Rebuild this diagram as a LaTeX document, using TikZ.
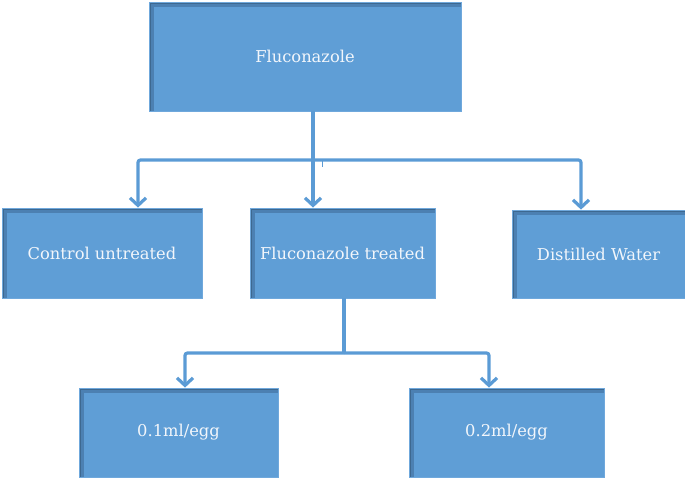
\documentclass[tikz,border=0pt]{standalone}
\usepackage{fontspec}
\setmainfont{DejaVu Serif}
\usetikzlibrary{arrows.meta}
\definecolor{boxfill}{HTML}{5F9ED6}
\definecolor{boxdark}{HTML}{3D6890}
\definecolor{boxmid}{HTML}{4C80B2}
\definecolor{boxedge}{HTML}{6FA8DC}
\definecolor{linecol}{HTML}{5B9BD5}
\definecolor{txtcol}{HTML}{F2F6FB}
\tikzset{
  boxnode/.style={rectangle, fill=boxfill, draw=boxedge, line width=0.8pt,
    text=txtcol, font=\fontsize{16.3}{19}\selectfont, inner sep=0pt,
    path picture={
      \fill[boxmid] (path picture bounding box.north west) rectangle ([yshift=-4.5pt]path picture bounding box.north east);
      \fill[boxmid] (path picture bounding box.north west) rectangle ([xshift=4.5pt]path picture bounding box.south west);
      \fill[boxdark] (path picture bounding box.north west) rectangle ([yshift=-2.2pt]path picture bounding box.north east);
      \fill[boxdark] (path picture bounding box.north west) rectangle ([xshift=2.2pt]path picture bounding box.south west);
    }},
  conn/.style={draw=linecol, line width=3.2pt, rounded corners=2.5pt},
  arr/.style={conn, -{Straight Barb[length=7.5pt,width=16pt,line width=3.2pt]}}
}
\begin{document}
\begin{tikzpicture}[x=1pt,y=-1pt]
\useasboundingbox (0,0) rectangle (685,477);
\node[boxnode, minimum width=312pt, minimum height=109pt] (top) at (305,56.5) {Fluconazole};
\node[boxnode, minimum width=200pt, minimum height=90pt] (ctrl) at (102,253) {Control untreated};
\node[boxnode, minimum width=185pt, minimum height=90pt] (flt) at (342.5,253) {Fluconazole treated};
\node[boxnode, minimum width=173pt, minimum height=88pt] (dist) at (598.5,254) {Distilled Water};
\node[boxnode, minimum width=199pt, minimum height=89pt] (b1) at (178.5,432.5) {0.1ml/egg};
\node[boxnode, minimum width=195pt, minimum height=89pt] (b2) at (506.5,432.5) {0.2ml/egg};
% first level connectors
\coordinate (j1) at (313,160);
\coordinate (a1) at (138,160);
\coordinate (a3) at (581,160);
\draw[conn] (top.south -| j1) -- (j1);
\draw[arr] (j1) -- (a1) -- (a1 |- ctrl.north);
\draw[arr] (j1) -- (a3) -- (a3 |- dist.north);
\draw[arr] (j1) -- (j1 |- flt.north);
\coordinate (tk) at (322,160);
\draw[linecol, line width=1pt] (tk) -- ++(0,7);
% second level connectors
\coordinate (j2) at (344,353);
\coordinate (c1) at (185,353);
\coordinate (c2) at (489,353);
\draw[conn] (flt.south -| j2) -- (j2);
\draw[arr] (j2) -- (c1) -- (c1 |- b1.north);
\draw[arr] (j2) -- (c2) -- (c2 |- b2.north);
\end{tikzpicture}
\end{document}
